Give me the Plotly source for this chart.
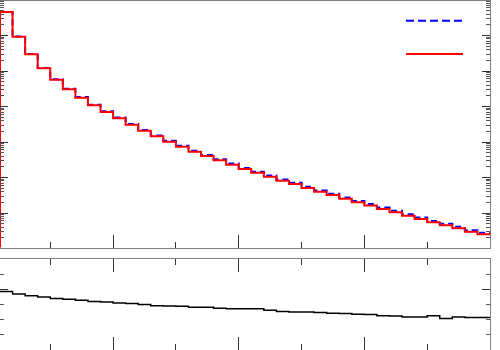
import plotly.graph_objects as go
from plotly.subplots import make_subplots

# bin edges 1..40, 39 bins of width 1
edges = list(range(1, 41))

# top panel: two histograms (log scale)
red_vals = [4.59e6, 9.25e5, 2.95e5, 1.19e5, 5.69e4, 3.05e4, 1.77e4, 1.08e4, 7.0e3, 4.66e3,
            3.07e3, 2.08e3, 1.45e3, 1.02e3, 738, 533, 404, 305, 230, 173,
            136, 105, 81.3, 65.6, 50.6, 39.8, 32.1, 25.3, 20.0, 16.3,
            13.0, 10.5, 8.40, 6.78, 5.47, 4.51, 3.71, 2.97, 2.51]
blue_vals = [4.62e6, 9.40e5, 3.01e5, 1.22e5, 5.87e4, 3.15e4, 1.84e4, 1.125e4, 7.31e3, 4.88e3,
             3.22e3, 2.19e3, 1.53e3, 1.08e3, 782, 567, 430, 325, 246, 185,
             145, 113, 87.7, 70.9, 54.7, 43.1, 34.9, 27.5, 21.8, 17.8,
             14.2, 11.5, 9.24, 7.46, 5.99, 4.99, 4.08, 3.28, 2.77]

# bottom panel: ratio
ratio_vals = [0.993, 0.985, 0.979, 0.975, 0.970, 0.967, 0.964, 0.960, 0.958, 0.955,
              0.953, 0.950, 0.946, 0.945, 0.944, 0.941, 0.941, 0.938, 0.936, 0.936,
              0.936, 0.931, 0.927, 0.925, 0.925, 0.924, 0.921, 0.920, 0.918, 0.917,
              0.913, 0.912, 0.909, 0.909, 0.913, 0.904, 0.909, 0.907, 0.907]

ylog_range = [0.0225, 6.986]
ratio_range = [0.8, 1.1]

def step(vals):
    # repeat the last value so the last bin gets its full width with 'hv'
    return vals + [vals[-1]]

fig = make_subplots(rows=2, cols=1, shared_xaxes=False)

fig.add_trace(go.Scatter(x=edges, y=step(blue_vals), mode="lines", line_shape="hv",
                         line=dict(color="#0000ff", width=2, dash="6px,4px"),
                         showlegend=False), row=1, col=1)
fig.add_trace(go.Scatter(x=[edges[0]] + edges, y=[10 ** ylog_range[0]] + step(red_vals),
                         mode="lines", line_shape="hv",
                         line=dict(color="#ff0000", width=2), showlegend=False), row=1, col=1)
fig.add_trace(go.Scatter(x=edges, y=step(ratio_vals), mode="lines", line_shape="hv",
                         line=dict(color="#000000", width=1.5), showlegend=False), row=2, col=1)

frame = "#808080"
xcommon = dict(range=[1, 40], dtick=10, tick0=0, ticks="inside", ticklen=13, tickcolor="#333",
               showticklabels=False, showgrid=False, zeroline=False, showline=True,
               linecolor=frame, linewidth=1,
               minor=dict(dtick=5, tick0=0, ticks="inside", ticklen=6, tickcolor="#333"))

fig.update_xaxes(domain=[0, 0.98], mirror=True, row=1, col=1, **xcommon)
fig.update_xaxes(domain=[0, 0.98], mirror="ticks", row=2, col=1, **xcommon)

# log minor ticks at 2..9 of each decade
log_minor = [k * 10 ** d for d in range(0, 7) for k in range(2, 10)]

fig.update_yaxes(type="log", range=ylog_range, domain=[1 - 247.7 / 350, 1 - 0.5 / 350],
                 dtick=1, ticks="inside", ticklen=8, tickcolor="#333", mirror="ticks",
                 showticklabels=False, showgrid=False, zeroline=False, showline=True,
                 linecolor=frame, linewidth=1,
                 minor=dict(tickmode="array", tickvals=log_minor, ticks="inside", ticklen=4,
                            tickcolor="#555"),
                 row=1, col=1)
fig.update_yaxes(range=ratio_range, domain=[0, 1 - 259 / 350],
                 dtick=0.2, tick0=0.8, ticks="inside", ticklen=8, tickcolor="#333", mirror="ticks",
                 showticklabels=False, showgrid=False, zeroline=False, showline=True,
                 linecolor=frame, linewidth=1,
                 minor=dict(dtick=0.05, tick0=0.8, ticks="inside", ticklen=4, tickcolor="#555"),
                 row=2, col=1)

# legend line samples (no text in the reference)
fig.add_shape(type="line", xref="paper", yref="paper", x0=406 / 500, x1=463 / 500,
              y0=1 - 20.7 / 350, y1=1 - 20.7 / 350,
              line=dict(color="#0000ff", width=2, dash="8px,4px"))
fig.add_shape(type="line", xref="paper", yref="paper", x0=406 / 500, x1=463 / 500,
              y0=1 - 54 / 350, y1=1 - 54 / 350,
              line=dict(color="#ff0000", width=2))

fig.update_layout(width=500, height=350, margin=dict(l=0, r=0, t=0, b=0),
                  plot_bgcolor="white", paper_bgcolor="white")

# the page body has a default 8px margin; drop it so the figure sits at the corner
fig.write_html("out.html", config={"displayModeBar": False},
               post_script="document.body.style.margin='0';")
